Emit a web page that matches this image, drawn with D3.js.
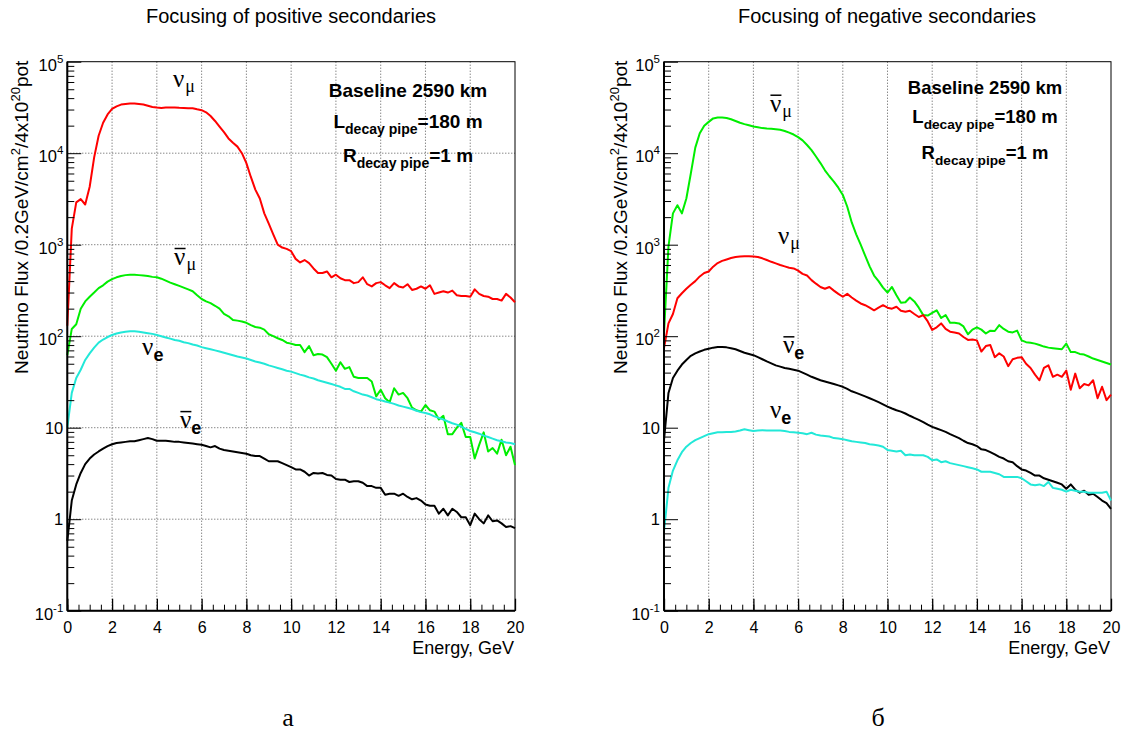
<!DOCTYPE html>
<html>
<head>
<meta charset="utf-8">
<script src="https://cdn.jsdelivr.net/npm/d3@7"></script>
<style>
body { margin: 0; background: #fff; }
svg { display: block; font-family: "Liberation Sans", Arial, sans-serif; }
.grid line { stroke: #555; stroke-width: 1; stroke-dasharray: 1,2; }
</style>
</head>
<body>
<script>
// energy bins, 0.2 GeV
var energy = d3.range(101).map(function(i) { return +(i * 0.2).toFixed(1); });

// y axis decades
var yTicks = [0.1, 1, 10, 100, 1000, 10000, 100000];
var yTickLabels = [["10", "-1"], ["1", ""], ["10", ""], ["10", "2"], ["10", "3"], ["10", "4"], ["10", "5"]];
var xTicks = [0, 2, 4, 6, 8, 10, 12, 14, 16, 18, 20];

// focusing of positive secondaries
var posNuMu = [130, 1500, 2900, 3150, 2750, 4300, 9000, 15500, 21500, 26500,
    30500, 32500, 34000, 34500, 35000, 35000, 34500, 34000, 33000, 32000,
    31500, 31200, 31500, 31500, 31500, 31300, 31200, 31000, 31000, 30200,
    29500, 28000, 25500, 22500, 19500, 17000, 14500, 13000, 11800, 10000,
    7800, 5500, 4000, 3200, 2200, 1700, 1300, 1000, 930, 900,
    850, 700, 640, 680, 630, 550, 490, 490, 510, 440,
    470, 430, 410, 410, 380, 390, 440, 370, 350, 380,
    390, 360, 335, 380, 350, 340, 370, 320, 330, 350,
    330, 360, 290, 300, 310, 300, 315, 280, 275, 275,
    270, 325, 290, 275, 270, 255, 255, 245, 290, 265, 235];
var posNuMuBar = [62, 120, 135, 200, 240, 270, 300, 335, 360, 395,
    420, 440, 455, 465, 470, 470, 465, 460, 455, 445,
    440, 425, 405, 385, 370, 355, 340, 325, 310, 280,
    255, 240, 230, 215, 200, 175, 165, 150, 148, 145,
    140, 132, 126, 124, 118, 105, 100, 95, 91, 85,
    83, 80, 80, 67, 78, 62, 64, 63, 59, 50,
    42, 52, 44, 46, 36, 35, 35, 35, 32, 22,
    26, 21, 19, 27, 23, 24, 21, 16.6, 15.5, 15,
    17.7, 15.5, 15, 12.3, 13.5, 8.5, 8.5, 10, 11.3, 7.9,
    7.9, 4.6, 6.5, 8.9, 5.5, 6, 5.2, 7.4, 5.0, 6.2, 3.9];
var posNuE = [10, 24, 35, 43, 55, 65, 75, 85, 92, 98,
    103, 107, 110, 112, 113, 113, 112, 110, 108, 106,
    103, 100, 97, 94, 91, 89, 86, 84, 81, 79,
    76, 74, 72, 70, 68, 66, 64, 62, 60, 58.5,
    57, 55, 53, 51.5, 50, 48, 46.5, 45, 43.5, 42,
    41, 39.5, 38, 37, 35.5, 34.5, 33, 32, 31, 30,
    29, 28, 26.5, 26.5, 25, 24, 23, 22.5, 21.5, 20.5,
    20, 19.3, 18.8, 18.2, 17.5, 17, 16.5, 16, 15.3, 14.8,
    14.5, 14, 13.3, 12.8, 12.3, 11.7, 11.2, 10.8, 10.3, 9.7,
    9.2, 8.9, 8.6, 8.2, 7.9, 7.6, 7.3, 7.1, 6.9, 6.8, 6.6];
var posNuEBar = [0.58, 1.6, 2.4, 3.2, 4.0, 4.6, 5.1, 5.5, 5.9, 6.3,
    6.6, 6.8, 6.9, 7.0, 7.1, 7.1, 7.3, 7.5, 7.7, 7.5,
    7.2, 7.2, 7.2, 7.1, 7.0, 7.0, 6.9, 6.8, 6.7, 6.6,
    6.5, 6.3, 6.1, 6.3, 5.9, 5.7, 5.6, 5.5, 5.4, 5.3,
    5.2, 5.0, 4.9, 4.9, 4.6, 4.3, 4.3, 4.3, 4.1, 3.9,
    3.7, 3.5, 3.5, 3.3, 3.0, 3.2, 3.15, 3.2, 3.05, 3.0,
    2.75, 2.7, 2.7, 2.55, 2.6, 2.6, 2.5, 2.3, 2.3, 2.2,
    2.2, 1.85, 1.9, 1.9, 1.8, 1.9, 1.75, 1.65, 1.7, 1.6,
    1.45, 1.4, 1.4, 1.15, 1.3, 1.1, 1.3, 1.2, 1.05, 1.05,
    0.86, 1.15, 1.0, 0.9, 1.1, 0.95, 0.97, 0.9, 0.82, 0.84, 0.8];

// focusing of negative secondaries
var negNuMuBar = [107, 960, 2200, 2700, 2200, 3200, 6000, 11500, 16500, 20000,
    22000, 24000, 24500, 24600, 24300, 23500, 22500, 21500, 20800, 20200,
    19600, 19200, 18800, 18600, 18500, 18300, 18000, 17500, 16800, 16000,
    15000, 13800, 12300, 10800, 9200, 7800, 6500, 5600, 4900, 4200,
    3500, 2600, 1750, 1300, 1000, 760, 580, 460, 400, 340,
    300, 345, 280, 232, 235, 265, 240, 205, 170, 168,
    180, 192, 158, 170, 140, 140, 138, 128, 105, 118,
    125, 118, 107, 115, 114, 132, 120, 112, 110, 115,
    90, 86, 85, 83, 80, 77, 75, 74, 73, 72,
    83, 67, 67, 64, 63, 60, 57, 55, 53, 51, 49];
var negNuMu = [74, 138, 175, 260, 295, 330, 365, 400, 450, 490,
    510, 575, 630, 665, 690, 715, 735, 745, 750, 750,
    745, 735, 710, 680, 650, 625, 600, 580, 560, 550,
    520, 480, 460, 410, 375, 345, 330, 345, 315, 290,
    270, 290, 265, 245, 228, 218, 205, 192, 205, 218,
    205, 200, 210, 190, 185, 190, 175, 162, 170, 145,
    117, 125, 138, 120, 112, 110, 107, 98, 91, 92,
    90, 68, 78, 80, 59, 65, 60, 47, 56, 58,
    59, 50, 45, 38, 33, 45, 48, 36, 38, 36,
    42, 26, 39, 27, 30, 29, 33, 21, 28, 20, 23];
var negNuEBar = [7.3, 24, 35, 42, 49, 55, 61, 65, 68, 71,
    73, 75, 76, 76, 75.5, 74, 72, 69, 66, 64,
    62, 59, 56, 53, 50.5, 48, 46.5, 45, 44, 43,
    42, 40, 38, 36, 34.5, 33, 32, 31, 30, 29,
    28, 26.5, 25, 24, 23, 22, 21, 20, 19, 18,
    17, 16.2, 15.5, 15, 14.3, 13.5, 12.8, 12.2, 11.5, 10.8,
    10.2, 9.8, 9.4, 9.0, 8.5, 8.1, 7.7, 7.2, 6.8, 6.6,
    6.3, 5.8, 5.7, 5.4, 5.1, 4.8, 4.6, 4.3, 4.2, 3.8,
    3.5, 3.4, 3.2, 3.0, 3.0, 2.8, 2.7, 2.6, 2.5, 2.4,
    2.15, 2.4, 2.1, 1.95, 2.05, 1.85, 1.9, 1.75, 1.6, 1.5, 1.3];
var negNuE = [0.73, 2.2, 3.4, 4.4, 5.4, 6.2, 6.8, 7.3, 7.7, 8.1,
    8.5, 8.7, 8.9, 8.9, 9.0, 9.0, 9.1, 9.3, 9.6, 9.4,
    9.2, 9.3, 9.4, 9.3, 9.3, 9.3, 9.3, 9.2, 9.0, 8.9,
    8.8, 8.7, 8.5, 8.8, 8.4, 8.2, 8.1, 8.0, 7.7, 7.6,
    7.5, 7.3, 7.1, 7.0, 6.9, 6.8, 6.6, 6.5, 6.4, 6.2,
    5.7, 5.6, 5.5, 5.6, 5.0, 5.1, 5.0, 5.0, 5.0, 4.8,
    4.4, 4.5, 4.2, 4.3, 4.1, 4.0, 3.9, 3.8, 3.7, 3.6,
    3.5, 3.3, 3.3, 3.3, 3.2, 3.1, 2.9, 2.9, 2.9, 2.9,
    2.8, 2.6, 2.4, 2.35, 2.4, 2.3, 2.55, 2.2, 2.15, 2.1,
    2.0, 2.1, 2.05, 2.0, 2.0, 1.95, 1.95, 1.95, 1.95, 2.0, 1.6];

var width = 1130,
    height = 731;

var svg = d3.select("body")
    .append("svg")
    .attr("width", width)
    .attr("height", height);

//panel settings
var panels = [
    {
        title: "Focusing of positive secondaries", titleX: 291, caption: "а", captionX: 288,
        x0: 67.3, x1: 515, hGrid: true, yTitleX: 28,
        series: [
            {values: posNuMu, color: "#ff0000"},
            {values: posNuMuBar, color: "#00ee00"},
            {values: posNuE, color: "#22e8d8"},
            {values: posNuEBar, color: "#000000"}
        ],
        labels: [
            {e: 4.72, f: 53000, sub: "μ", bar: false, serifSub: true},
            {e: 4.77, f: 600, sub: "μ", bar: true, serifSub: true},
            {e: 3.34, f: 62, sub: "e", bar: false, serifSub: false},
            {e: 5.03, f: 9.9, sub: "e", bar: true, serifSub: false}
        ],
        boxX: 408, boxSize: 19, boxY: [96.5, 128, 162]
    },
    {
        title: "Focusing of negative secondaries", titleX: 887, caption: "б", captionX: 878,
        x0: 664, x1: 1111, hGrid: false, yTitleX: 627,
        series: [
            {values: negNuMuBar, color: "#00ee00"},
            {values: negNuMu, color: "#ff0000"},
            {values: negNuEBar, color: "#000000"},
            {values: negNuE, color: "#22e8d8"}
        ],
        labels: [
            {e: 4.74, f: 28400, sub: "μ", bar: true, serifSub: true},
            {e: 5.10, f: 1020, sub: "μ", bar: false, serifSub: true},
            {e: 5.32, f: 65, sub: "e", bar: true, serifSub: false},
            {e: 4.74, f: 12.8, sub: "e", bar: false, serifSub: false}
        ],
        boxX: 985, boxSize: 18.5, boxY: [93.5, 123, 159]
    }
];

var yTop = 61.7,
    yBottom = 610.7;

panels.forEach(function(p) { drawPanel(p); });

function drawPanel(p) {
    var x = d3.scaleLinear().domain([0, 20]).range([p.x0, p.x1]);
    var y = d3.scaleLog().domain([0.1, 100000]).range([yBottom, yTop]);
    var g = svg.append("g");

    //title
    svg.append("text")
        .attr("x", p.titleX)
        .attr("y", 22.5)
        .attr("text-anchor", "middle")
        .style("font-size", "20px")
        .text(p.title);

    //dotted grid
    var grid = g.append("g").attr("class", "grid");
    grid.selectAll(".vg")
        .data(xTicks.slice(1, -1))
        .enter()
        .append("line")
        .attr("x1", function(d) { return x(d); })
        .attr("x2", function(d) { return x(d); })
        .attr("y1", yTop)
        .attr("y2", yBottom);
    if (p.hGrid) {
        grid.selectAll(".hg")
            .data(yTicks.slice(1, -1))
            .enter()
            .append("line")
            .attr("x1", p.x0)
            .attr("x2", p.x1)
            .attr("y1", function(d) { return y(d); })
            .attr("y2", function(d) { return y(d); });
    }

    //frame
    g.append("rect")
        .attr("x", p.x0)
        .attr("y", yTop)
        .attr("width", p.x1 - p.x0)
        .attr("height", yBottom - yTop)
        .attr("fill", "none")
        .attr("stroke", "#000")
        .attr("stroke-width", 1);

    //curves
    var line = d3.line()
        .x(function(d, i) { return x(energy[i]); })
        .y(function(d) { return y(d); });
    g.selectAll(".curve")
        .data(p.series)
        .enter()
        .append("path")
        .attr("class", "curve")
        .attr("d", function(d) { return line(d.values); })
        .attr("fill", "none")
        .attr("stroke", function(d) { return d.color; })
        .attr("stroke-width", 2)
        .attr("stroke-linejoin", "round");

    //x axis, major and minor ticks
    var minorX = d3.range(41).map(function(i) { return i * 0.5; });
    g.append("g")
        .attr("transform", "translate(0," + yBottom + ")")
        .call(d3.axisTop(x).tickValues(minorX).tickSize(6).tickFormat(""))
        .call(function(s) { s.select(".domain").remove(); });
    var xa = g.append("g")
        .attr("transform", "translate(0," + yBottom + ")")
        .call(d3.axisTop(x).tickValues(xTicks).tickSize(12).tickPadding(0).tickFormat(d3.format("d")));
    xa.select(".domain").attr("stroke-width", 2).attr("d", "M" + p.x0 + ",0H" + p.x1);
    xa.selectAll("text")
        .attr("y", 22)
        .attr("dy", 0)
        .style("font-size", "16px")
        .style("font-family", "Liberation Sans, Arial, sans-serif");
    xa.selectAll("line").attr("stroke-width", 1.3);

    svg.append("text")
        .attr("x", p.x1 - 1)
        .attr("y", 653.5)
        .attr("text-anchor", "end")
        .style("font-size", "18px")
        .text("Energy, GeV");

    //y axis, major and minor ticks
    var minorY = [];
    for (var dec = -1; dec < 5; dec++) {
        for (var k = 2; k < 10; k++) minorY.push(k * Math.pow(10, dec));
    }
    g.append("g")
        .attr("transform", "translate(" + p.x0 + ",0)")
        .call(d3.axisRight(y).tickValues(minorY).tickSize(7).tickFormat(""))
        .call(function(s) { s.select(".domain").remove(); });
    var ya = g.append("g")
        .attr("transform", "translate(" + p.x0 + ",0)")
        .call(d3.axisRight(y).tickValues(yTicks).tickSize(14).tickFormat(""));
    ya.select(".domain").attr("stroke-width", 2).attr("d", "M0," + yTop + "V" + yBottom);

    //y tick labels with exponents
    yTicks.forEach(function(v, i) {
        var lab = yTickLabels[i];
        var t = svg.append("text")
            .attr("x", p.x0 - 4)
            .attr("y", y(v) + (lab[1] ? 9 : 6))
            .attr("text-anchor", "end")
            .style("font-size", "16.5px");
        t.append("tspan").text(lab[0]);
        if (lab[1]) {
            t.append("tspan")
                .attr("dy", -8)
                .style("font-size", "11.5px")
                .text(lab[1]);
        }
    });

    //y axis title
    var yt = svg.append("text")
        .attr("transform", "translate(" + p.yTitleX + "," + (yTop - 1) + ") rotate(-90)")
        .attr("text-anchor", "end")
        .style("font-size", "19px");
    yt.append("tspan").text("Neutrino Flux /0.2GeV/cm");
    yt.append("tspan").attr("dy", -8).style("font-size", "13px").text("2");
    yt.append("tspan").attr("dy", 8).text("/4x10");
    yt.append("tspan").attr("dy", -8).style("font-size", "13px").text("20");
    yt.append("tspan").attr("dy", 8).text("pot");

    //curve labels
    p.labels.forEach(function(l) {
        var lx = x(l.e), ly = y(l.f);
        var t = svg.append("text")
            .attr("x", lx)
            .attr("y", ly);
        t.append("tspan")
            .style("font-family", "Liberation Serif, Times New Roman, serif")
            .style("font-size", "25px")
            .text("ν");
        if (l.serifSub) {
            t.append("tspan")
                .attr("dy", 5)
                .attr("dx", 1)
                .style("font-family", "Liberation Serif, Times New Roman, serif")
                .style("font-size", "18px")
                .text(l.sub);
        } else {
            t.append("tspan")
                .attr("dy", 6)
                .style("font-weight", "bold")
                .style("font-size", "18px")
                .text(l.sub);
        }
        if (l.bar) {
            svg.append("line")
                .attr("x1", lx + 0.5)
                .attr("x2", lx + 11.5)
                .attr("y1", ly - 16.5)
                .attr("y2", ly - 16.5)
                .attr("stroke", "#000")
                .attr("stroke-width", 1.5);
        }
    });

    //info text
    var info = svg.append("g").style("font-weight", "bold");
    info.append("text")
        .attr("x", p.boxX)
        .attr("y", p.boxY[0])
        .attr("text-anchor", "middle")
        .style("font-size", p.boxSize + "px")
        .text("Baseline 2590 km");
    [["L", "=180 m", p.boxY[1]], ["R", "=1 m", p.boxY[2]]].forEach(function(r) {
        var t = info.append("text")
            .attr("x", p.boxX)
            .attr("y", r[2])
            .attr("text-anchor", "middle")
            .style("font-size", p.boxSize + "px");
        t.append("tspan").text(r[0]);
        t.append("tspan").attr("dy", 6).style("font-size", (p.boxSize * 0.74) + "px").text("decay pipe");
        t.append("tspan").attr("dy", -6).text(r[1]);
    });

    //caption
    svg.append("text")
        .attr("x", p.captionX)
        .attr("y", 726)
        .attr("text-anchor", "middle")
        .style("font-family", "Liberation Serif, DejaVu Serif, serif")
        .style("font-size", "26px")
        .text(p.caption);
}
</script>
</body>
</html>
